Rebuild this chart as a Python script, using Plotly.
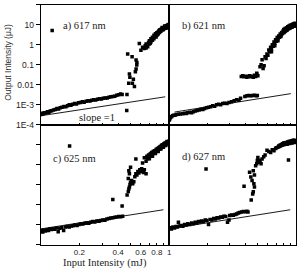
import plotly.graph_objects as go

# ---------------- data (Input mJ, Output uJ) ----------------
a_x = [0.100,0.102,0.104,0.107,0.110,0.113,0.116,0.119,0.122,0.126,0.130,0.134,0.138,0.142,0.147,0.152,0.157,0.162,0.167,0.172,0.178,0.184,0.190,0.197,0.204,0.211,0.218,0.226,0.234,0.242,0.250,0.259,0.268,0.277,0.287,0.297,0.307,0.318,0.329,0.340,0.352,0.364,0.377,0.390,0.404,0.418,0.430,
       0.123,0.467,0.469,
       0.475,0.514,0.552,0.559,0.552,0.490,0.494,0.484,0.517,0.536,0.526,0.545,0.560,
       0.585,0.602,0.640,0.620,0.650,0.660,0.680,0.690,0.700,0.710,0.720,0.730,0.740,0.750,0.760,0.770,0.780,0.790,0.800,0.810,0.820,0.830,0.840,0.850,0.860,0.870,0.880,0.890,0.900,0.910,0.920,0.930,0.940,0.950,0.960,0.970,0.980,0.990,1.000,
       0.66,0.70,0.74,0.78,0.82,0.86,0.90,0.94,0.98,0.96,0.92,0.88,0.84,0.80,0.76,0.72,0.99,0.97,0.95,0.93]
a_y = [3.2e-4,3.8e-4,3.4e-4,4.0e-4,3.9e-4,4.4e-4,4.2e-4,4.8e-4,5.0e-4,5.5e-4,5.8e-4,6.5e-4,6.2e-4,7.0e-4,7.5e-4,8.2e-4,8.0e-4,9.0e-4,1.0e-3,9.5e-4,1.05e-3,1.15e-3,1.1e-3,1.25e-3,1.3e-3,1.4e-3,1.35e-3,1.5e-3,1.6e-3,1.55e-3,1.7e-3,1.8e-3,1.75e-3,1.9e-3,2.0e-3,1.95e-3,2.1e-3,2.2e-3,2.15e-3,2.4e-3,2.5e-3,2.6e-3,2.7e-3,3.0e-3,3.2e-3,3.5e-3,3.3e-3,
       5.3,5.1e-4,3.3e-3,
       0.35,0.254,0.174,0.098,0.062,0.035,0.024,0.012,0.012,0.0083,0.019,0.045,0.13,
       1.16,0.54,0.66,0.75,0.9,1.1,0.8,1.3,1.6,1.2,2.0,1.7,2.4,2.2,3.0,2.6,3.6,2.5,4.0,3.3,4.5,5.0,4.2,5.5,4.8,6.0,6.5,5.6,7.0,6.5,7.5,8.0,7.2,8.5,9.0,8.2,9.5,8.8,10.0,
       0.7,1.1,1.7,2.8,3.6,5.8,6.0,8.6,7.8,7.0,8.8,7.4,5.6,3.0,2.0,1.4,10.5,9.8,7.6,6.8]

b_x = [0.100,0.101,0.102,0.104,0.106,0.108,0.111,0.114,0.118,0.122,0.128,0.132,0.136,0.140,0.145,0.150,0.155,0.160,0.166,0.172,0.178,0.184,0.190,0.197,0.204,0.212,0.220,0.228,0.236,0.245,0.254,0.264,0.274,0.285,0.296,0.310,0.325,0.340,0.355,0.365,0.395,0.410,0.425,0.440,0.455,0.470,0.485,0.495,
       0.37,0.38,0.39,0.40,0.41,0.42,0.43,0.44,0.45,0.46,0.47,0.48,0.49,0.50,0.49,
       0.52,0.53,0.55,0.56,0.54,0.57,0.58,0.59,0.60,0.61,0.62,0.63,0.64,0.65,0.66,0.67,0.68,0.69,0.70,0.71,0.72,0.73,0.74,0.75,0.76,0.77,0.78,0.79,0.80,0.81,0.82,0.83,0.84,0.85,0.86,0.87,0.88,0.89,0.90,0.91,0.92,0.93,0.94,0.95,0.96,0.97,0.98,0.99,1.00,
       0.80,0.82,0.84,0.86,0.88,0.90,0.92,0.94,0.96,0.98,0.81,0.85,0.89,0.93,0.97,0.99,0.76,0.72,0.68,0.64]
b_y = [1.7e-4,2.0e-4,2.3e-4,2.5e-4,2.8e-4,3.0e-4,3.0e-4,3.2e-4,3.3e-4,3.4e-4,3.5e-4,3.8e-4,3.6e-4,4.0e-4,4.2e-4,4.0e-4,4.5e-4,4.8e-4,5.2e-4,5.5e-4,6.0e-4,5.8e-4,6.5e-4,7.0e-4,7.5e-4,8.0e-4,9.0e-4,8.5e-4,1.0e-3,1.05e-3,1.0e-3,1.15e-3,1.2e-3,1.15e-3,1.3e-3,1.4e-3,1.6e-3,1.8e-3,1.7e-3,2.1e-3,2.6e-3,2.8e-3,2.9e-3,2.8e-3,2.9e-3,3.0e-3,2.8e-3,2.9e-3,
       0.026,0.028,0.025,0.027,0.024,0.026,0.028,0.025,0.027,0.024,0.030,0.026,0.034,0.028,0.038,
       0.08,0.10,0.065,0.09,0.18,0.25,0.21,0.35,0.30,0.55,0.45,0.75,0.60,1.0,0.85,1.4,1.2,1.8,1.5,2.3,2.0,2.8,2.4,3.5,3.0,4.2,3.6,5.0,4.0,5.5,4.8,6.0,5.2,6.8,6.0,7.5,6.5,8.0,7.2,8.5,7.8,9.0,8.5,10.0,9.2,10.5,9.8,11.0,10.5,
       5.8,6.5,7.0,8.0,8.8,9.5,10.0,10.8,11.5,12.0,4.4,5.6,6.8,7.6,8.6,9.5,2.6,1.6,0.9,0.45]

c_x = [0.100,0.102,0.104,0.106,0.109,0.112,0.115,0.118,0.121,0.125,0.129,0.133,0.137,0.141,0.146,0.151,0.156,0.161,0.167,0.173,0.179,0.185,0.192,0.199,0.206,0.213,0.221,0.229,0.237,0.246,0.255,0.264,0.274,0.284,0.294,0.305,0.316,0.328,0.340,0.352,0.365,0.378,0.392,0.406,0.420,0.434,
       0.168,0.364,0.430,
       0.47,0.48,0.485,0.49,0.495,0.50,0.48,0.49,0.50,0.485,0.51,0.52,0.53,0.54,0.55,0.56,0.57,0.58,0.59,0.60,0.61,0.62,0.63,0.64,0.66,0.55,0.64,0.62,0.66,
       0.67,0.68,0.69,0.70,0.71,0.72,0.73,0.74,0.75,0.76,0.77,0.78,0.79,0.80,0.81,0.82,0.83,0.84,0.85,0.86,0.87,0.88,0.89,0.90,0.91,0.92,0.93,0.94,0.95,0.96,0.97,0.98,0.99,1.00,
       0.72,0.76,0.80,0.84,0.88,0.92,0.96,0.99,0.74,0.78,0.82,0.86,0.90,0.94,0.98,0.70]
c_y = [4.5e-4,5.0e-4,4.2e-4,5.2e-4,4.8e-4,5.5e-4,5.0e-4,6.0e-4,5.6e-4,6.2e-4,5.8e-4,6.8e-4,4.4e-4,6.5e-4,7.0e-4,5.0e-4,7.5e-4,8.0e-4,7.6e-4,8.5e-4,8.8e-4,9.5e-4,9.0e-4,1.0e-3,1.1e-3,1.05e-3,1.15e-3,1.2e-3,1.15e-3,1.3e-3,1.4e-3,1.35e-3,1.5e-3,1.45e-3,1.6e-3,1.7e-3,1.65e-3,1.9e-3,2.0e-3,2.1e-3,2.2e-3,2.3e-3,2.4e-3,2.5e-3,2.45e-3,2.6e-3,
       8.6,0.018,8.6e-3,
       0.030,0.045,0.060,0.077,0.10,0.13,0.20,0.35,0.75,0.50,0.16,0.11,0.14,0.25,0.35,0.30,0.45,0.38,0.55,0.45,0.62,0.50,0.40,0.55,0.35,1.9,2.2,1.2,1.5,
       2.6,2.0,3.0,2.5,3.4,2.8,4.0,3.2,4.5,3.8,5.0,4.2,5.8,4.8,6.5,5.5,7.0,6.0,8.0,7.0,9.0,7.5,10.0,8.5,11.0,9.5,12.0,10.5,13.0,11.5,14.0,12.5,15.0,13.5,
       3.6,4.5,5.8,7.5,9.5,11.5,14.5,13.0,2.6,3.6,4.6,6.0,7.5,9.0,11.0,2.0]

d_x = [0.100,0.102,0.104,0.107,0.110,0.113,0.116,0.118,0.120,0.124,0.128,0.132,0.136,0.140,0.145,0.150,0.155,0.160,0.165,0.170,0.175,0.180,0.186,0.192,0.198,0.204,0.210,0.217,0.224,0.231,0.238,0.246,0.254,0.262,0.270,0.279,0.288,0.296,0.300,0.310,0.320,0.330,0.340,0.350,0.360,0.372,0.385,0.398,0.410,0.418,
       0.195,0.389,0.443,0.872,
       0.43,0.44,0.45,0.465,0.47,0.46,0.455,0.46,0.47,0.48,0.49,0.495,0.50,0.51,0.52,0.53,0.54,0.556,0.57,0.59,0.61,0.63,0.65,0.67,0.69,
       0.70,0.72,0.73,0.74,0.75,0.76,0.77,0.78,0.79,0.80,0.81,0.82,0.83,0.84,0.85,0.86,0.87,0.88,0.89,0.90,0.91,0.92,0.93,0.94,0.95,0.96,0.97,0.98,0.99,1.00,
       0.82,0.84,0.86,0.88,0.90,0.92,0.94,0.96,0.98,0.85,0.89,0.93,0.97,0.80,0.78,0.75]
d_y = [6.5e-4,7.0e-4,6.0e-4,7.5e-4,6.8e-4,8.0e-4,7.5e-4,1.3e-3,8.5e-4,9.0e-4,8.2e-4,1.0e-3,9.5e-4,1.1e-3,1.0e-3,1.2e-3,1.1e-3,1.3e-3,1.2e-3,1.4e-3,1.35e-3,1.5e-3,1.4e-3,1.7e-3,1.6e-3,1.0e-3,1.8e-3,1.7e-3,2.0e-3,1.9e-3,2.2e-3,2.1e-3,2.4e-3,2.3e-3,2.6e-3,2.5e-3,1.3e-3,1.7e-3,2.8e-3,3.0e-3,2.9e-3,3.2e-3,3.4e-3,3.8e-3,4.0e-3,4.3e-3,4.5e-3,4.4e-3,4.6e-3,4.3e-3,
       0.61,0.083,0.017,1.7,
       0.42,0.24,0.16,0.11,0.077,0.044,0.034,0.50,0.30,0.89,1.1,1.6,2.3,1.3,1.6,1.1,1.9,2.5,3.0,5.3,4.5,4.0,5.5,5.0,6.5,
       7.0,7.5,8.5,8.0,9.5,9.0,10.0,9.5,11.0,10.0,11.5,10.5,12.0,11.0,12.5,11.5,13.0,12.0,13.5,12.5,14.0,13.0,14.5,13.5,15.0,14.0,15.5,14.5,15.0,15.5,
       12.5,13.0,13.5,14.5,15.0,15.5,16.0,16.5,16.0,10.5,11.5,12.0,13.0,12.0,11.0,8.5]

# slope = 1 reference lines (end points)
a_line_x = [0.100, 0.93]; a_line_y = [2.8e-4, 2.5e-3]
b_line_x = [0.110, 0.91]; b_line_y = [4.3e-4, 3.6e-3]
c_line_x = [0.100, 0.90]; c_line_y = [6.0e-4, 5.5e-3]
d_line_x = [0.100, 0.90]; d_line_y = [6.1e-4, 5.5e-3]

panel_labels = ["a) 617 nm", "b) 621 nm", "c) 625 nm", "d) 627 nm"]
y_tick_vals = [1e-4, 1e-3, 1e-2, 1e-1, 1, 10, 100]
y_tick_text = ["1E-4", "1E-3", "0.01", "0.1", "1", "10", "100"]
x_tick_vals = [0.1, 0.2, 0.3, 0.4, 0.5, 0.6, 0.7, 0.8, 0.9, 1.0]
x_tick_text = ["", "0.2", "", "0.4", "", "0.6", "", "0.8", "", "1"]

# ---------------- figure ----------------
W, H = 301, 277
fig = go.Figure()
panels = [(a_x, a_y, a_line_x, a_line_y), (b_x, b_y, b_line_x, b_line_y),
          (c_x, c_y, c_line_x, c_line_y), (d_x, d_y, d_line_x, d_line_y)]
for i, (px, py, lx, ly) in enumerate(panels):
    ax = "" if i == 0 else str(i + 1)
    fig.add_trace(go.Scatter(x=lx, y=ly, mode="lines", line=dict(color="black", width=0.9),
                             xaxis="x" + ax, yaxis="y" + ax, showlegend=False, hoverinfo="skip"))
    fig.add_trace(go.Scatter(x=px, y=py, mode="markers",
                             marker=dict(symbol="square", size=3.5, color="black", line=dict(width=0)),
                             xaxis="x" + ax, yaxis="y" + ax, showlegend=False))

xl = [41 / W, 171 / W]
xr = [171 / W, 299 / W]
yt = [1 - 127 / H, 1 - 5 / H]
yb = [1 - 249 / H, 1 - 127 / H]
doms = [(xl, yt), (xr, yt), (xl, yb), (xr, yb)]

layout = dict(width=W, height=H, margin=dict(l=0, r=0, t=0, b=0),
              paper_bgcolor="white", plot_bgcolor="white", showlegend=False)
for i, (dx, dy) in enumerate(doms):
    ax = "" if i == 0 else str(i + 1)
    layout["xaxis" + ax] = dict(domain=dx, anchor="y" + ax, type="log", range=[-1, 0],
                                showline=True, mirror=True, linecolor="black", linewidth=1,
                                showgrid=False, zeroline=False, ticks="inside", ticklen=2,
                                tickcolor="black", tickvals=x_tick_vals, ticktext=x_tick_text,
                                showticklabels=(i == 2),
                                tickfont=dict(family="Liberation Sans, Arial", size=8, color="#222"))
    layout["yaxis" + ax] = dict(domain=dy, anchor="x" + ax, type="log", range=[-4, 2],
                                showline=True, mirror=True, linecolor="black", linewidth=1,
                                showgrid=False, zeroline=False,
                                ticks="outside" if i in (0, 2) else "", ticklen=4, tickcolor="black",
                                tickvals=y_tick_vals, ticktext=y_tick_text,
                                showticklabels=(i == 0),
                                tickfont=dict(family="Liberation Sans, Arial", size=8.5, color="#222"))
fig.update_layout(**layout)

serif = "Liberation Serif, Times New Roman, serif"
ann_pos = [(62, 26), (182, 26), (52, 162), (182, 160)]
for lab, (ax_, ay_) in zip(panel_labels, ann_pos):
    fig.add_annotation(text=lab, x=ax_ / W, y=1 - ay_ / H, xref="paper", yref="paper",
                       xanchor="left", yanchor="middle", showarrow=False,
                       font=dict(family=serif, size=10.5, color="#222"))
fig.add_annotation(text="slope =1", x=98 / W, y=1 - 120 / H, xref="paper", yref="paper",
                   xanchor="center", yanchor="middle", showarrow=False,
                   font=dict(family=serif, size=10.5, color="#222"))
fig.add_annotation(text="Input Intensity (mJ)", x=106 / W, y=1 - 268 / H, xref="paper", yref="paper",
                   xanchor="center", yanchor="middle", showarrow=False,
                   font=dict(family=serif, size=10.5, color="#222"))
fig.add_annotation(text="Output Intensity (\u03bcJ)", x=8 / W, y=1 - 63 / H, xref="paper", yref="paper",
                   xanchor="center", yanchor="middle", showarrow=False, textangle=-90,
                   font=dict(family="Liberation Sans, Arial", size=8.5, color="#333"))

fig.write_html("out.html")
